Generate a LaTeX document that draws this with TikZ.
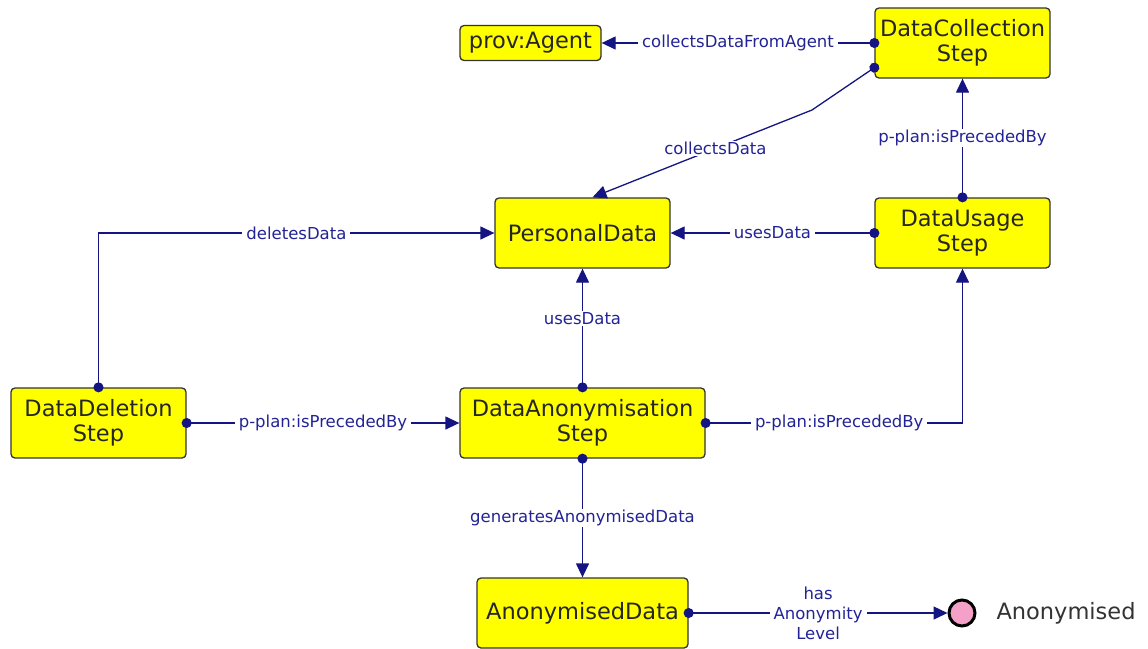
\documentclass[tikz,border=0pt]{standalone}
\usepackage{fontspec}
\setmainfont{DejaVu Sans}
\usetikzlibrary{arrows.meta,calc}
\definecolor{edgeblue}{RGB}{20,20,130}
\definecolor{labelblue}{RGB}{35,35,150}
\definecolor{nodeyellow}{RGB}{255,255,0}
\definecolor{pinkfill}{RGB}{245,160,200}
\tikzset{
  cls/.style={draw=black!80, line width=1.3pt, fill=nodeyellow, rounded corners=4pt,
    align=center, text=black!85, font=\fontsize{22.5}{25}\selectfont, inner sep=0pt,
    minimum height=70pt, minimum width=175pt},
  rel/.style={draw=edgeblue, line width=1.3pt,
    {Circle[length=10pt]}-{Triangle[length=14pt,width=13pt]}, shorten <=-5pt},
  lbl/.style={fill=white, text=labelblue, font=\fontsize{16.5}{20}\selectfont,
    inner xsep=4pt, inner ysep=1pt, align=center},
}
\begin{document}
\begin{tikzpicture}[x=1pt,y=-1pt]
\useasboundingbox[fill=white] (0,0) rectangle (1148,648);

% classes
\node[cls, minimum width=141pt, minimum height=35pt] (agent) at (530.5,43) {prov:Agent};
\node[cls] (dcs) at (962.5,43) {DataCollection\\Step};
\node[cls] (pd) at (582.5,233) {PersonalData};
\node[cls] (dus) at (962.5,233) {DataUsage\\Step};
\node[cls] (dds) at (98.5,423) {DataDeletion\\Step};
\node[cls, minimum width=245pt] (das) at (582.5,423) {DataAnonymisation\\Step};
\node[cls, minimum width=211pt] (ad) at (582.5,613) {AnonymisedData};

% literal value
\node[circle, draw=black, line width=3pt, fill=pinkfill, minimum size=26pt, inner sep=0pt] (lit) at (962,613) {};
\node[anchor=west, text=black!80, font=\fontsize{22.5}{25}\selectfont] (littext) at (993,613) {Anonymised};

% relations
\draw[rel] (dcs.west) -- node[lbl] {collectsDataFromAgent} (agent.east);
\coordinate (bend) at (812,110);
\draw[rel] ([yshift=11pt]dcs.south west) -- (bend) -- node[lbl, pos=0.44] {collectsData} ([xshift=10pt]pd.north);
\draw[rel] (dus.north) -- node[lbl] {p-plan:isPrecededBy} (dcs.south);
\draw[rel] (dus.west) -- node[lbl] {usesData} (pd.east);
\draw[rel] (dds.north) |- node[lbl, pos=0.75] {deletesData} (pd.west);
\draw[rel] (das.north) -- node[lbl, pos=0.58] {usesData} (pd.south);
\draw[rel] (dds.east) -- node[lbl] {p-plan:isPrecededBy} (das.west);
\draw[rel] (das.east) -| node[lbl, pos=0.26] {p-plan:isPrecededBy} (dus.south);
\draw[rel] (das.south) -- node[lbl] {generatesAnonymisedData} (ad.north);
\draw[rel] (ad.east) -- node[lbl] {has\\Anonymity\\Level} (lit.west);
\end{tikzpicture}
\end{document}
